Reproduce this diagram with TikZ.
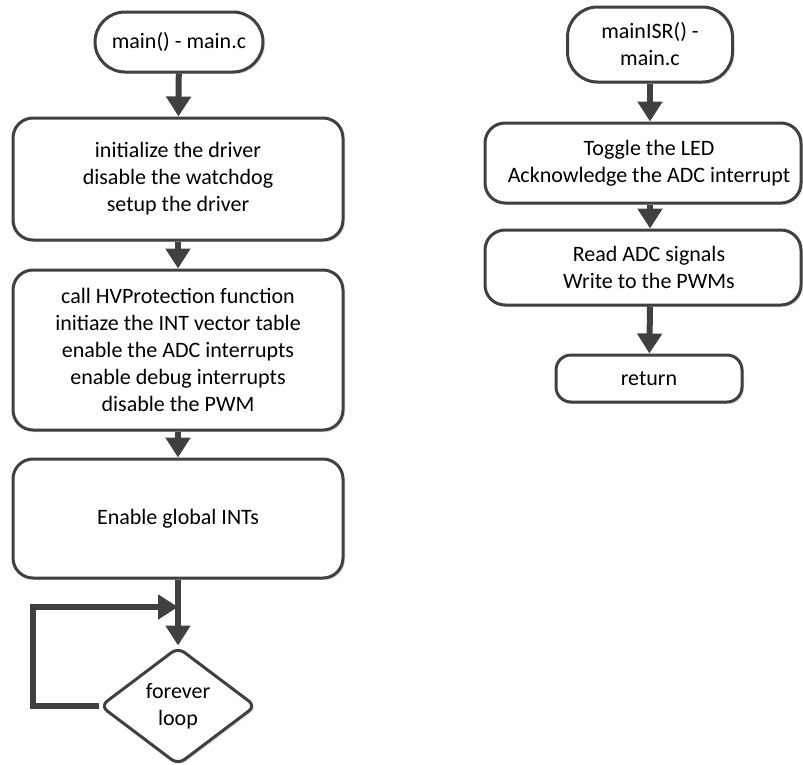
\documentclass[tikz,border=0pt]{standalone}
\usepackage{fontspec}
\setmainfont{Carlito}
\usetikzlibrary{arrows.meta,shapes.geometric,shadows}
\definecolor{ln}{HTML}{404040}
\tikzset{
  base/.style={draw=ln, line width=3pt, fill=white, align=center, inner sep=0pt,
    font=\fontsize{22}{27}\selectfont,
    drop shadow={shadow xshift=2pt, shadow yshift=-2pt, fill=black, opacity=0.12}},
  box/.style={base, rounded corners=20pt},
  term/.style={base, rounded corners=30pt},
  dec/.style={base, diamond, rounded corners=8pt},
  txt/.style={align=center, inner sep=0pt, font=\fontsize{22}{27}\selectfont},
  arr/.style={draw=ln, line width=6pt, -{Triangle[length=20pt,width=24pt]}},
}
\begin{document}
\begin{tikzpicture}[x=1pt,y=-1pt]
\useasboundingbox (0,0) rectangle (803,764);
% left column
\node[term, minimum width=168pt, minimum height=60pt] (t1) at (179,42) {main() - main.c};
\node[box, minimum width=330pt, minimum height=122pt] (b1) at (178,179) {initialize the driver\\disable the watchdog\\setup the driver};
\node[box, minimum width=330pt, minimum height=160pt] (b2) at (178,350) {call HVProtection function\\initiaze the INT vector table\\enable the ADC interrupts\\enable debug interrupts\\disable the PWM};
\node[box, minimum width=330pt, minimum height=119pt] (b3) at (178,518.5) {Enable global INTs};
\node[dec, minimum width=156pt, minimum height=118pt] (d) at (178,706) {forever\\loop};
\coordinate (j) at (178,607);
\coordinate (lp) at (33,607);
\draw[arr] (t1) -- (b1);
\draw[arr] (b1) -- (b2);
\draw[arr] (b2) -- (b3);
\draw[arr] (b3) -- (d);
\draw[arr, rounded corners=0pt] (d.west) -- (d.west -| lp) -- (lp) -- (j);
% right column
\node[term, minimum width=165pt, minimum height=75pt] (t2) at (650,44.5) {mainISR() -\\main.c};
\node[box, minimum width=316pt, minimum height=80pt] (r1) at (643,163) {};
\node[txt] (r1t) at (649,163) {Toggle the LED\\Acknowledge the ADC interrupt};
\node[box, minimum width=316pt, minimum height=75pt] (r2) at (643,267.5) {};
\node[txt] (r2t) at (649,267.5) {Read ADC signals\\Write to the PWMs};
\node[box, rounded corners=15pt, minimum width=186pt, minimum height=47pt] (r3) at (649,378.5) {return};
\draw[arr] (t2) -- (t2 |- r1.north);
\draw[arr] (r1.south -| t2) -- (t2 |- r2.north);
\draw[arr] (r2.south -| t2) -- (r3);
\end{tikzpicture}
\end{document}
